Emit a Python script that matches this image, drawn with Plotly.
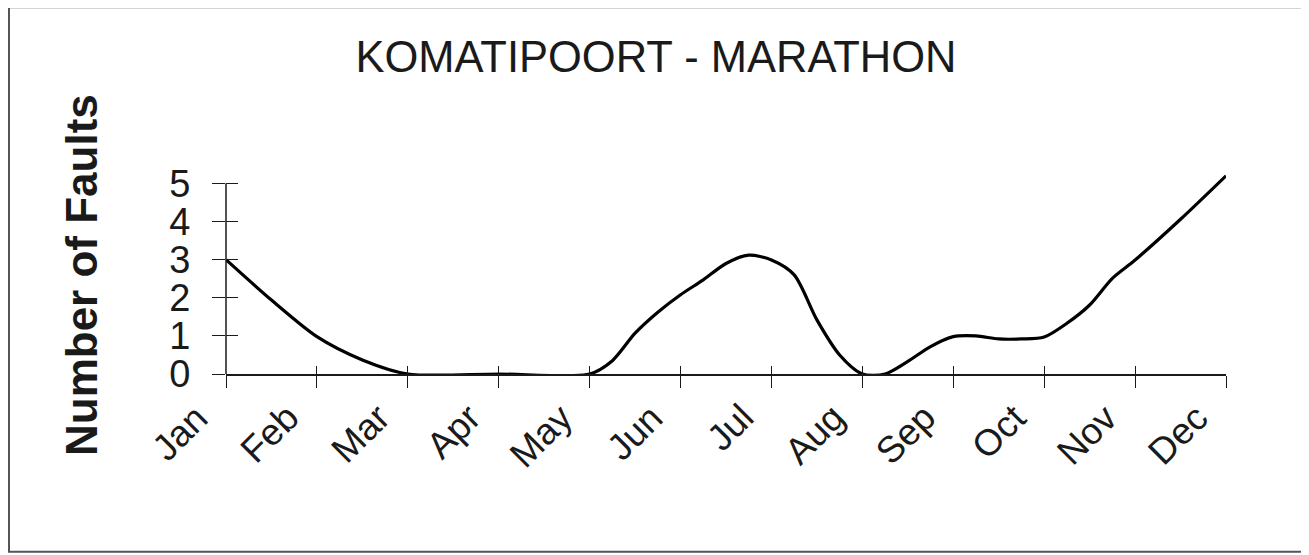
import plotly.graph_objects as go

# month tick labels
months = ["Jan", "Feb", "Mar", "Apr", "May", "Jun",
          "Jul", "Aug", "Sep", "Oct", "Nov", "Dec"]
month_pos = [0, 1, 2, 3, 4, 5, 6, 7, 8, 9, 10, 11]

# position along the year (in months from Jan) and fault counts
period = [0, 0.5, 1, 1.5, 2, 3, 4, 4.25, 4.5, 4.75, 5, 5.25, 5.5, 5.75, 6,
          6.25, 6.5, 6.75, 7, 7.25, 7.5, 7.75, 8, 8.25, 8.5, 8.75, 9, 9.25,
          9.5, 9.75, 10, 10.5, 11]
faults = [3.0, 1.94, 0.98, 0.37, 0, 0, 0, 0.35, 1.07, 1.62, 2.08, 2.47, 2.9,
          3.12, 2.99, 2.6, 1.42, 0.5, 0, 0, 0.33, 0.72, 0.98, 1.0, 0.92, 0.92,
          0.97, 1.33, 1.81, 2.51, 2.99, 4.06, 5.2]

y_ticks = [0, 1, 2, 3, 4, 5]

FONT = "Liberation Sans, Arial, sans-serif"
INK = "#1a1a1a"
Y_TOP = 5.3

fig = go.Figure()
fig.add_trace(go.Scatter(x=period, y=faults,
                         mode="lines",
                         line=dict(color="black", width=3.2, shape="spline", smoothing=0.8),
                         hoverinfo="skip"))
# empty trace so the overlaying axes (inside tick halves) get drawn
fig.add_trace(go.Scatter(x=[], y=[], xaxis="x2", yaxis="y2", showlegend=False))

# rotated month labels, ending just left of each tick
month_labels = [dict(text=m, x=p, y=0, xref="x", yref="y", textangle=-45,
                     xanchor="right", yanchor="top", xshift=-7, yshift=-20,
                     showarrow=False, font=dict(family=FONT, size=37, color=INK))
                for m, p in zip(months, month_pos)]

fig.update_layout(
    width=1309, height=555,
    margin=dict(l=218, r=91, t=164, b=189),
    paper_bgcolor="white", plot_bgcolor="white",
    showlegend=False,
    title=dict(text="KOMATIPOORT - MARATHON", x=0.495, y=0.912,
               xanchor="center", yanchor="middle",
               font=dict(family=FONT, size=43.5, color=INK)),
    xaxis=dict(range=[0, 11], tickvals=month_pos, showticklabels=False,
               ticks="outside", ticklen=12, tickwidth=1,
               tickcolor=INK, showline=True, linecolor=INK, linewidth=1.5,
               showgrid=False, zeroline=False),
    yaxis=dict(range=[0, Y_TOP], tickvals=y_ticks, ticks="outside", ticklen=13,
               tickwidth=1, tickcolor=INK, showline=False, showgrid=False,
               zeroline=False, ticklabelstandoff=14,
               tickfont=dict(family=FONT, size=38, color=INK)),
    xaxis2=dict(overlaying="x", range=[0, 11], tickvals=month_pos,
                ticks="inside", ticklen=8, tickcolor=INK, showticklabels=False,
                showgrid=False, zeroline=False, showline=False),
    yaxis2=dict(overlaying="y", range=[0, Y_TOP], tickvals=y_ticks,
                ticks="inside", ticklen=12, tickcolor=INK, showticklabels=False,
                showgrid=False, zeroline=False, showline=False),
    annotations=[dict(text="<b>Number of Faults</b>", textangle=-90,
                      xref="paper", yref="paper", x=-0.145, y=0.49,
                      xanchor="center", yanchor="middle", showarrow=False,
                      font=dict(family=FONT, size=44, color=INK))] + month_labels,
    shapes=[
        # y axis line up to the top tick
        dict(type="line", xref="paper", yref="y", x0=0, x1=0, y0=0, y1=5,
             line=dict(color=INK, width=1.5)),
        # scanned page frame
        dict(type="rect", xref="paper", yref="paper",
             x0=-0.217, x1=1.076, y0=-0.88, y1=1.815,
             line=dict(color="#555555", width=2)),
    ],
)

fig.write_html("out.html")
